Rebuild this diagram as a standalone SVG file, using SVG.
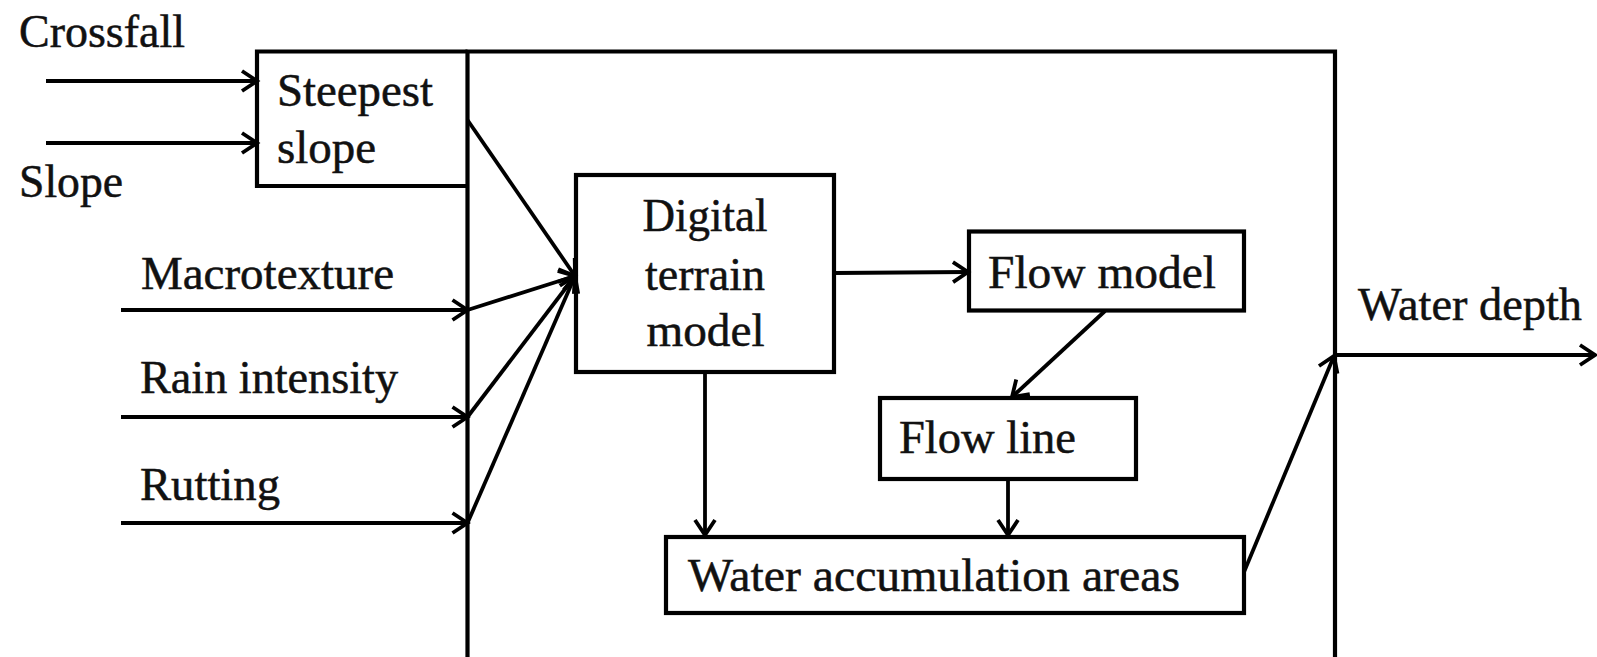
<svg xmlns="http://www.w3.org/2000/svg" width="1597" height="657" viewBox="0 0 1597 657">
  <style>
    .box { fill: none; stroke: #000; stroke-width: 4.2; }
    .frame { fill: none; stroke: #000; stroke-width: 4.2; }
    .link { fill: none; stroke: #000; stroke-width: 3.8; marker-end: url(#chev); }
    text { font-family: "Liberation Serif", "Times New Roman", serif; font-size: 46px; fill: #111; stroke: #111; stroke-width: 0.5; }
    .mid { text-anchor: middle; }
  </style>
  <defs>
    <marker id="chev" markerUnits="userSpaceOnUse" markerWidth="24" markerHeight="26" refX="18" refY="12" orient="auto" overflow="visible">
      <path d="M3,2 L18,12 L3,22" fill="none" stroke="#000" stroke-width="3.8" stroke-linejoin="miter"/>
    </marker>
  </defs>

  <rect width="1597" height="657" fill="#fff"/>

  <!-- enclosing model frame (open at the bottom) -->
  <g id="frame">
    <path class="frame" d="M467.5,657 L467.5,51.5 L1335,51.5 L1335,657"/>
  </g>

  <!-- input labels -->
  <g id="inputs">
    <text x="19" y="47" textLength="166" lengthAdjust="spacingAndGlyphs">Crossfall</text>
    <text x="19" y="197" textLength="104" lengthAdjust="spacingAndGlyphs">Slope</text>
    <text x="141" y="289" textLength="253" lengthAdjust="spacingAndGlyphs">Macrotexture</text>
    <text x="140" y="393" textLength="258" lengthAdjust="spacingAndGlyphs">Rain  intensity</text>
    <text x="140" y="500" textLength="140" lengthAdjust="spacingAndGlyphs">Rutting</text>
  </g>

  <g id="steepest-slope">
    <path class="box" d="M467.5,51.5 L257,51.5 L257,186 L467.5,186"/>
    <text x="277" y="106" textLength="156" lengthAdjust="spacingAndGlyphs">Steepest</text>
    <text x="277" y="163" textLength="99" lengthAdjust="spacingAndGlyphs">slope</text>
  </g>

  <g id="digital-terrain-model">
    <rect class="box" x="576" y="175" width="258" height="197"/>
    <text class="mid" x="705" y="231" textLength="125" lengthAdjust="spacingAndGlyphs">Digital</text>
    <text class="mid" x="705" y="290" textLength="120" lengthAdjust="spacingAndGlyphs">terrain</text>
    <text class="mid" x="705.5" y="346" textLength="118" lengthAdjust="spacingAndGlyphs">model</text>
  </g>

  <g id="flow-model">
    <rect class="box" x="969" y="231.5" width="275" height="79"/>
    <text x="988" y="288" textLength="228" lengthAdjust="spacingAndGlyphs">Flow model</text>
  </g>

  <g id="flow-line">
    <rect class="box" x="880" y="398" width="256" height="81"/>
    <text x="899" y="453" textLength="177" lengthAdjust="spacingAndGlyphs">Flow line</text>
  </g>

  <g id="water-accumulation-areas">
    <rect class="box" x="666" y="537" width="578" height="76"/>
    <text x="688" y="591" textLength="492" lengthAdjust="spacingAndGlyphs">Water accumulation  areas</text>
  </g>

  <g id="output">
    <text x="1358" y="320" textLength="224" lengthAdjust="spacingAndGlyphs">Water depth</text>
  </g>

  <g id="connectors">
    <line class="link" x1="46" y1="81" x2="257" y2="81"/>
    <line class="link" x1="46" y1="143" x2="257" y2="143"/>
    <line class="link" x1="467.5" y1="120" x2="575" y2="276"/>
    <line class="link" x1="121" y1="310" x2="467.5" y2="310"/>
    <line class="link" x1="467.5" y1="310" x2="575" y2="276"/>
    <line class="link" x1="121" y1="417" x2="467.5" y2="417"/>
    <line class="link" x1="467.5" y1="417" x2="575" y2="276"/>
    <line class="link" x1="121" y1="523" x2="467.5" y2="523"/>
    <line class="link" x1="467.5" y1="523" x2="575" y2="276"/>
    <line class="link" x1="834" y1="273" x2="968" y2="272"/>
    <line class="link" x1="1105" y1="311" x2="1012" y2="397"/>
    <line class="link" x1="705" y1="372" x2="705" y2="535"/>
    <line class="link" x1="1008" y1="479" x2="1008" y2="535"/>
    <line class="link" x1="1244" y1="572" x2="1334" y2="356"/>
    <line class="link" x1="1335" y1="355" x2="1595" y2="355"/>
  </g>
</svg>
